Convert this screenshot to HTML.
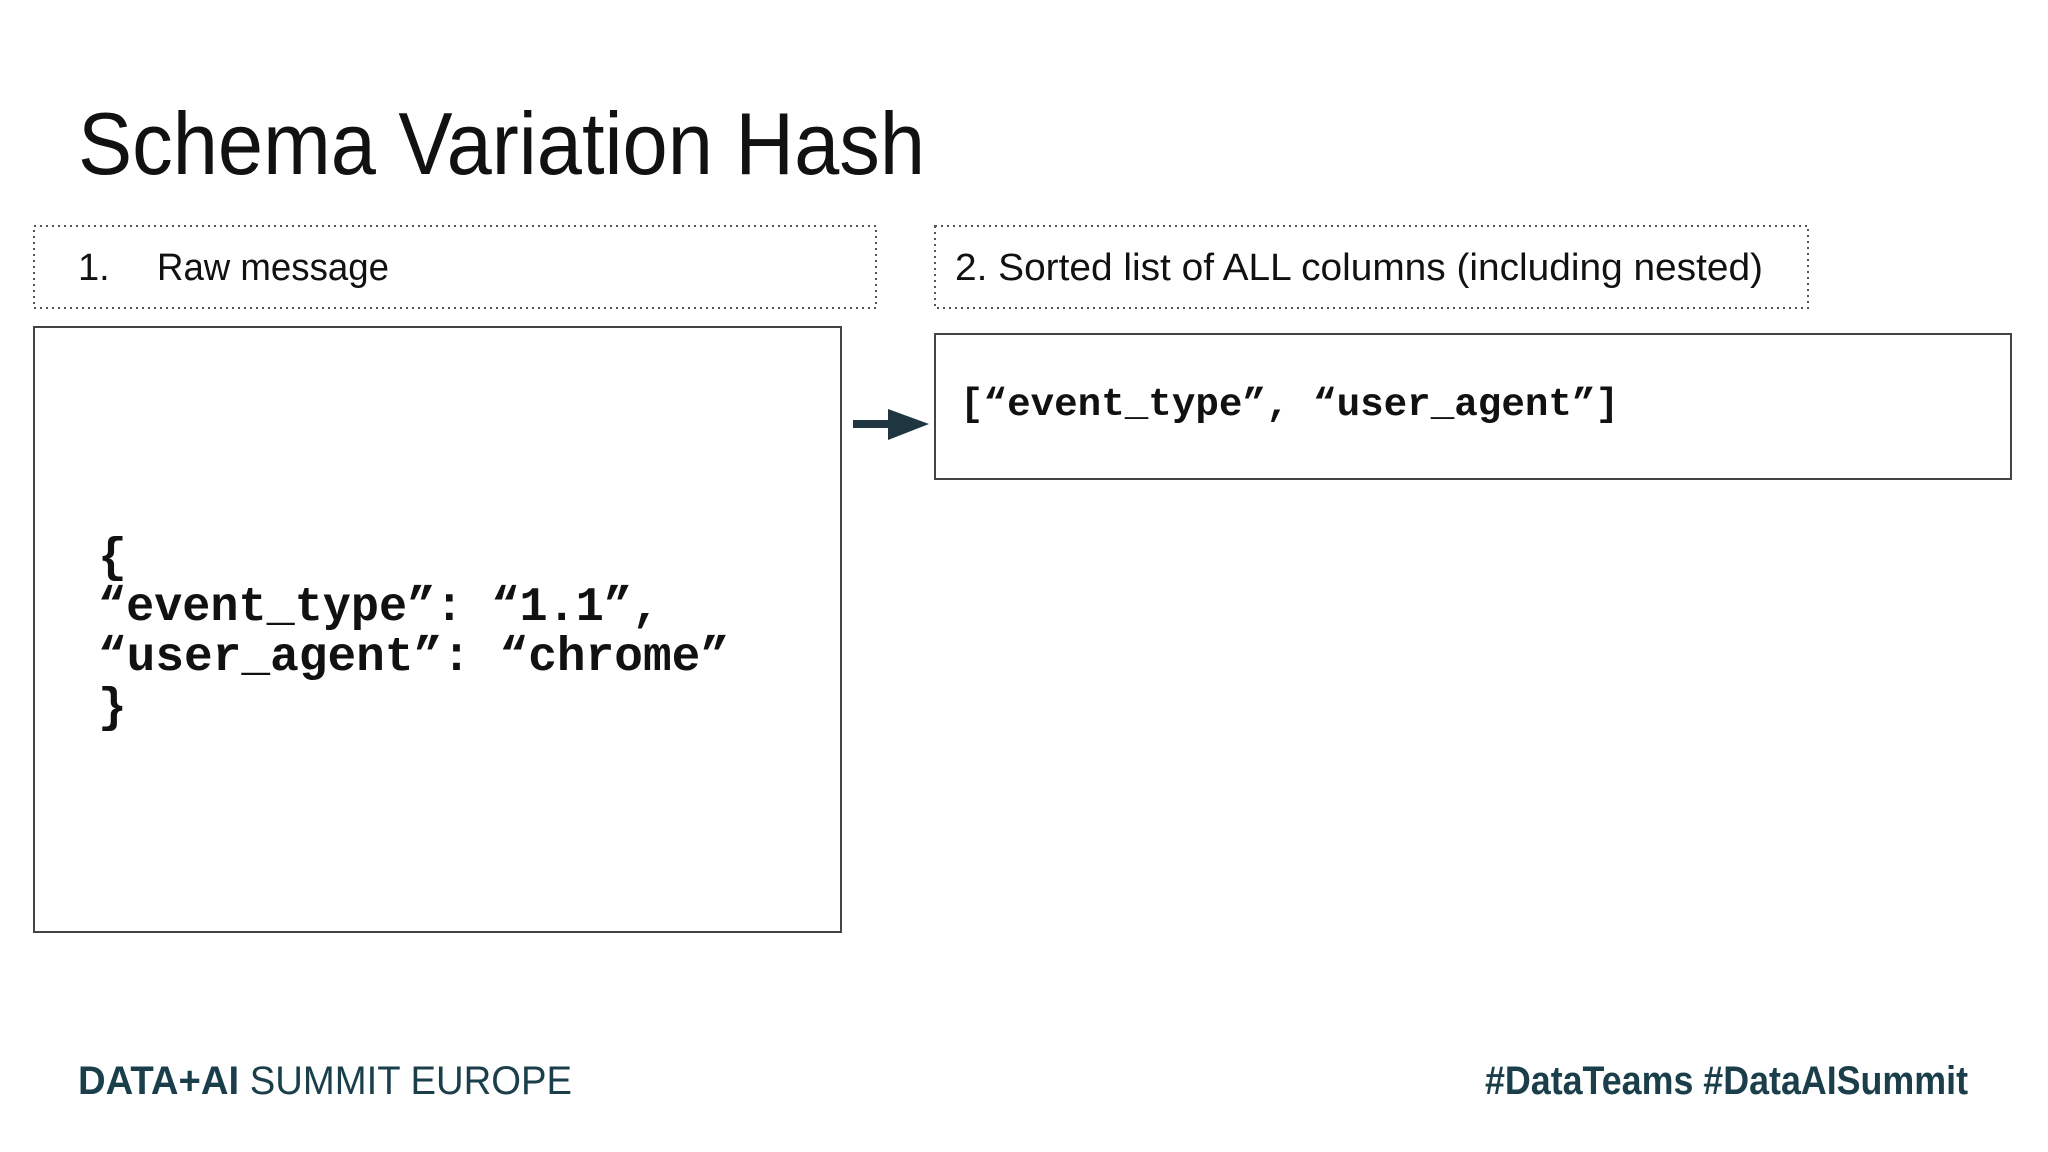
<!DOCTYPE html>
<html><head><meta charset="utf-8"><style>
html,body{margin:0;padding:0;background:#fff;}
svg{display:block;}
</style></head><body>
<svg width="2048" height="1152" viewBox="0 0 2048 1152" xmlns="http://www.w3.org/2000/svg">
<rect width="2048" height="1152" fill="#fff"/>
<text x="78" y="174" font-family="Liberation Sans, sans-serif" font-size="88" fill="#111" textLength="847" lengthAdjust="spacingAndGlyphs">Schema Variation Hash</text>
<rect x="34" y="226" width="842" height="82" fill="none" stroke="#555" stroke-width="2" stroke-dasharray="2 4"/>
<text x="78" y="280" font-family="Liberation Sans, sans-serif" font-size="38" fill="#111">1.</text>
<text x="157" y="280" font-family="Liberation Sans, sans-serif" font-size="38" fill="#111" textLength="232" lengthAdjust="spacingAndGlyphs">Raw message</text>
<rect x="935" y="226" width="873" height="82" fill="none" stroke="#555" stroke-width="2" stroke-dasharray="2 4"/>
<text x="955" y="280" font-family="Liberation Sans, sans-serif" font-size="38" fill="#111" textLength="808" lengthAdjust="spacingAndGlyphs">2. Sorted list of ALL columns (including nested)</text>
<rect x="34" y="327" width="807" height="605" fill="none" stroke="#444" stroke-width="2"/>
<g font-family="Liberation Mono, monospace" font-weight="bold" font-size="48" fill="#111">
<text x="98" y="571">{</text>
<text x="98" y="620" textLength="562" lengthAdjust="spacingAndGlyphs">“event_type”: “1.1”,</text>
<text x="98" y="670" textLength="631" lengthAdjust="spacingAndGlyphs">“user_agent”: “chrome”</text>
<text x="98" y="721">}</text>
</g>
<rect x="853" y="420" width="37" height="8" fill="#1f3540"/>
<polygon points="888,409 929,424 888,440" fill="#1f3540"/>
<rect x="935" y="334" width="1076" height="145" fill="none" stroke="#444" stroke-width="2"/>
<text x="960" y="415" font-family="Liberation Mono, monospace" font-weight="bold" font-size="39" fill="#111" textLength="659" lengthAdjust="spacingAndGlyphs">[“event_type”, “user_agent”]</text>
<text x="78" y="1094" font-family="Liberation Sans, sans-serif" font-size="40" fill="#1b3f4a" textLength="494" lengthAdjust="spacingAndGlyphs"><tspan font-weight="bold">DATA+AI</tspan> SUMMIT EUROPE</text>
<text x="1485" y="1094" font-family="Liberation Sans, sans-serif" font-weight="bold" font-size="40" fill="#1b3f4a" textLength="483" lengthAdjust="spacingAndGlyphs">#DataTeams #DataAISummit</text>
</svg>
</body></html>
